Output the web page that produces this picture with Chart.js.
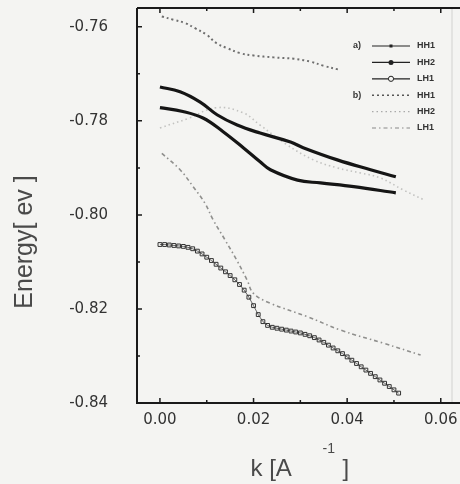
<!DOCTYPE html>
<html>
<head>
<meta charset="utf-8">
<script src="https://cdn.jsdelivr.net/npm/chart.js@4.4.1/dist/chart.umd.min.js"></script>
<style>
  html, body { margin: 0; padding: 0; background: #f4f4f2; }
  canvas { display: block; }
</style>
</head>
<body>
<canvas id="bands" width="460" height="484"></canvas>
<script>
// axis ticks
const xTicks = [0, 0.02, 0.04, 0.06];
const xMinor = [0.01, 0.03, 0.05];
const yTicks = [-0.84, -0.82, -0.80, -0.78, -0.76];
const yMinor = [-0.83, -0.81, -0.79, -0.77];

// a) HH1 (solid)
const hh1aK = [0, 0.0043, 0.0086, 0.0122, 0.0165, 0.0214, 0.0279, 0.0306, 0.0379, 0.045, 0.0504];
const hh1aE = [-0.7728, -0.7738, -0.7760, -0.7787, -0.7809, -0.7826, -0.7845, -0.7857, -0.7883, -0.7904, -0.7919];

// a) HH2 (solid)
const hh2aK = [0, 0.0049, 0.0092, 0.0135, 0.0178, 0.0214, 0.0236, 0.0294, 0.0343, 0.0414, 0.0504];
const hh2aE = [-0.7772, -0.7780, -0.7794, -0.7823, -0.7857, -0.7887, -0.7904, -0.7926, -0.7932, -0.7940, -0.7953];

// a) LH1 (open squares)
const lh1aK = [0, 0.001, 0.002, 0.003, 0.004, 0.005, 0.006, 0.007, 0.008, 0.009,
               0.010, 0.011, 0.012, 0.013, 0.014, 0.015, 0.016, 0.017, 0.018, 0.019,
               0.020, 0.021, 0.022, 0.023, 0.024, 0.025, 0.026, 0.027, 0.028, 0.029,
               0.030, 0.031, 0.032, 0.033, 0.034, 0.035, 0.036, 0.037, 0.038, 0.039,
               0.040, 0.041, 0.042, 0.043, 0.044, 0.045, 0.046, 0.047, 0.048, 0.049,
               0.050, 0.051];
const lh1aE = [-0.8063, -0.8063, -0.8064, -0.8065, -0.8066, -0.8067, -0.8069, -0.8072, -0.8077, -0.8083,
               -0.8090, -0.8097, -0.8105, -0.8113, -0.8121, -0.8129, -0.8138, -0.8148, -0.8160, -0.8175,
               -0.8193, -0.8212, -0.8227, -0.8235, -0.8239, -0.8241, -0.8243, -0.8245, -0.8247, -0.8249,
               -0.8251, -0.8254, -0.8257, -0.8261, -0.8266, -0.8271, -0.8277, -0.8283, -0.8289, -0.8295,
               -0.8302, -0.8309, -0.8316, -0.8323, -0.8330, -0.8337, -0.8344, -0.8351, -0.8358, -0.8365,
               -0.8372, -0.8379];

// b) HH1 (dashed)
const hh1bK = [0.0004, 0.0029, 0.0054, 0.0075, 0.01, 0.0121, 0.0143, 0.0171, 0.02, 0.0243, 0.0286, 0.0321, 0.035, 0.0382];
const hh1bE = [-0.7578, -0.7585, -0.7592, -0.7603, -0.7617, -0.7635, -0.7645, -0.7656, -0.7661, -0.7665, -0.7668, -0.7674, -0.7683, -0.7691];

// b) HH2 (dotted)
const hh2bK = [0, 0.006, 0.012, 0.0178, 0.0214, 0.027, 0.0328, 0.0379, 0.0429, 0.047, 0.052, 0.0564];
const hh2bE = [-0.7815, -0.7795, -0.7772, -0.7783, -0.7809, -0.7850, -0.7883, -0.7900, -0.7911, -0.7921, -0.7947, -0.7968];

// b) LH1 (dash-dot)
const lh1bK = [0.0004, 0.0043, 0.0071, 0.0096, 0.0114, 0.0139, 0.0164, 0.0186, 0.02, 0.0236, 0.0314, 0.0386, 0.0478, 0.0557];
const lh1bE = [-0.7869, -0.7904, -0.7940, -0.7975, -0.8011, -0.8053, -0.8096, -0.8138, -0.8167, -0.8188, -0.8216, -0.8245, -0.8273, -0.8298];

const pts = (ks, es) => ks.map((k, i) => ({ x: k, y: es[i] }));

// lineHeight 1 keeps the label half-height under the 8px top margin
const tickFont = { family: '"DejaVu Sans", sans-serif', size: 15, lineHeight: 1 };

// inward ticks on all four sides + frame
const framePlugin = {
    id: 'frame',
    afterDraw(chart) {
        const ctx = chart.ctx;
        const a = chart.chartArea;
        const xs = chart.scales.x, ys = chart.scales.y;
        ctx.save();
        // right side is faint in the scan
        ctx.strokeStyle = '#d2d2d0';
        ctx.lineWidth = 1;
        ctx.beginPath();
        ctx.moveTo(a.right, a.top);
        ctx.lineTo(a.right, a.bottom);
        ctx.stroke();

        ctx.strokeStyle = '#1a1a1a';
        ctx.lineWidth = 2;
        ctx.beginPath();
        ctx.moveTo(a.left, a.top);
        ctx.lineTo(a.left, a.bottom);
        ctx.lineTo(a.right + 8, a.bottom);
        ctx.moveTo(a.left, a.top);
        ctx.lineTo(a.right + 8, a.top);
        ctx.stroke();

        ctx.lineWidth = 1.5;
        ctx.beginPath();
        xTicks.concat(xMinor).forEach(v => {
            const px = xs.getPixelForValue(v);
            const len = xMinor.includes(v) ? 3 : 5;
            ctx.moveTo(px, a.bottom);
            ctx.lineTo(px, a.bottom - len);
            ctx.moveTo(px, a.top);
            ctx.lineTo(px, a.top + len);
        });
        yTicks.concat(yMinor).forEach(v => {
            const py = ys.getPixelForValue(v);
            const len = yMinor.includes(v) ? 3 : 5;
            ctx.moveTo(a.left, py);
            ctx.lineTo(a.left + len, py);
        });
        ctx.stroke();
        ctx.restore();
    }
};

// axis titles (the x title has a superscript)
const titlePlugin = {
    id: 'titles',
    afterDraw(chart) {
        const ctx = chart.ctx;
        const a = chart.chartArea;
        const cx = (a.left + a.right) / 2;
        ctx.save();
        ctx.fillStyle = '#4a4a4a';
        ctx.textBaseline = 'alphabetic';
        ctx.textAlign = 'left';
        ctx.font = '24px "Liberation Sans", Arial, sans-serif';
        ctx.fillText('k [A', cx - 44, 476);
        ctx.fillText(']', cx + 48, 476);
        ctx.font = '14px "Liberation Sans", Arial, sans-serif';
        ctx.fillText('-1', cx + 28, 453);

        ctx.translate(25, 242);
        ctx.rotate(-Math.PI / 2);
        ctx.textAlign = 'center';
        ctx.textBaseline = 'middle';
        ctx.font = '25px "Liberation Sans", Arial, sans-serif';
        ctx.fillText('Energy[ ev ]', 0, 0);
        ctx.restore();
    }
};

// legend with line sample and marker, as in the figure
const legendRows = [
    { tag: 'a)', label: 'HH1' },
    { tag: '',   label: 'HH2' },
    { tag: '',   label: 'LH1' },
    { tag: 'b)', label: 'HH1' },
    { tag: '',   label: 'HH2' },
    { tag: '',   label: 'LH1' }
];

const legendPlugin = {
    id: 'bandLegend',
    afterDraw(chart) {
        const ctx = chart.ctx;
        ctx.save();
        ctx.font = 'bold 9px "Liberation Sans", Arial, sans-serif';
        ctx.textBaseline = 'middle';
        legendRows.forEach((row, i) => {
            const ds = chart.data.datasets[i];
            const y = 46 + i * 16.4;
            ctx.fillStyle = '#333';
            if (row.tag) {
                ctx.textAlign = 'center';
                ctx.fillText(row.tag, 357, y);
            }
            ctx.textAlign = 'left';
            ctx.fillText(row.label, 417, y);

            ctx.strokeStyle = ds.legendColor;
            ctx.lineWidth = ds.legendWidth;
            ctx.setLineDash(ds.borderDash || []);
            ctx.beginPath();
            ctx.moveTo(372, y);
            ctx.lineTo(410, y);
            ctx.stroke();
            ctx.setLineDash([]);

            ctx.fillStyle = '#222';
            ctx.strokeStyle = '#222';
            ctx.lineWidth = 1;
            if (ds.legendMarker === 'rect') {
                ctx.fillRect(389.5, y - 1.5, 3, 3);
            } else if (ds.legendMarker === 'dot') {
                ctx.beginPath();
                ctx.arc(391, y, 2.5, 0, Math.PI * 2);
                ctx.fill();
            } else if (ds.legendMarker === 'ring') {
                ctx.fillStyle = '#f4f4f2';
                ctx.beginPath();
                ctx.arc(391, y, 2.6, 0, Math.PI * 2);
                ctx.fill();
                ctx.stroke();
            }
        });
        ctx.restore();
    }
};

new Chart(document.getElementById('bands'), {
    type: 'scatter',
    data: {
        datasets: [
            {
                label: 'a) HH1', data: pts(hh1aK, hh1aE), showLine: true,
                borderColor: '#151515', borderWidth: 3.2, pointRadius: 0, tension: 0.4,
                legendMarker: 'rect', legendColor: '#222', legendWidth: 1.2
            },
            {
                label: 'a) HH2', data: pts(hh2aK, hh2aE), showLine: true,
                borderColor: '#151515', borderWidth: 3.2, pointRadius: 0, tension: 0.4,
                legendMarker: 'dot', legendColor: '#222', legendWidth: 1.2
            },
            {
                label: 'a) LH1', data: pts(lh1aK, lh1aE), showLine: true,
                borderColor: '#444', borderWidth: 0.8,
                pointStyle: 'rect', pointRadius: 2.7,
                pointBorderColor: '#333', pointBorderWidth: 1, pointBackgroundColor: 'rgba(0,0,0,0)',
                legendMarker: 'ring', legendColor: '#222', legendWidth: 1.2
            },
            {
                label: 'b) HH1', data: pts(hh1bK, hh1bE), showLine: true,
                borderColor: '#6e6e6e', borderWidth: 2, borderDash: [2, 3], pointRadius: 0, tension: 0.4,
                legendColor: '#555', legendWidth: 1.5
            },
            {
                label: 'b) HH2', data: pts(hh2bK, hh2bE), showLine: true,
                borderColor: '#c2c2c0', borderWidth: 1.6, borderDash: [1.5, 3], pointRadius: 0, tension: 0.4,
                legendColor: '#aaa', legendWidth: 1.2
            },
            {
                label: 'b) LH1', data: pts(lh1bK, lh1bE), showLine: true,
                borderColor: '#8f8f8d', borderWidth: 1.6, borderDash: [4, 3, 1.5, 3], pointRadius: 0, tension: 0.4,
                legendColor: '#888', legendWidth: 1.2
            }
        ]
    },
    options: {
        responsive: false,
        animation: false,
        layout: { padding: { left: 0, top: 8, right: 8, bottom: 0 } },
        plugins: {
            legend: { display: false },
            tooltip: { enabled: false }
        },
        scales: {
            x: {
                type: 'linear',
                min: -0.0049,
                max: 0.0624,
                // grid hidden; tickLength only pushes the labels down
                grid: { display: false, drawTicks: true, tickLength: 10 },
                border: { display: false },
                ticks: {
                    font: tickFont, color: '#333', padding: 0,
                    callback: v => v.toFixed(2)
                },
                afterBuildTicks: scale => { scale.ticks = xTicks.map(v => ({ value: v })); },
                afterFit: scale => { scale.height = 81; }
            },
            y: {
                type: 'linear',
                min: -0.84,
                max: -0.756,
                grid: { display: false, drawTicks: true, tickLength: 29 },
                border: { display: false },
                ticks: {
                    font: tickFont, color: '#333', padding: 0,
                    callback: v => v.toFixed(2)
                },
                afterBuildTicks: scale => { scale.ticks = yTicks.map(v => ({ value: v })); },
                afterFit: scale => { scale.width = 137; }
            }
        }
    },
    plugins: [framePlugin, titlePlugin, legendPlugin]
});
</script>
</body>
</html>
